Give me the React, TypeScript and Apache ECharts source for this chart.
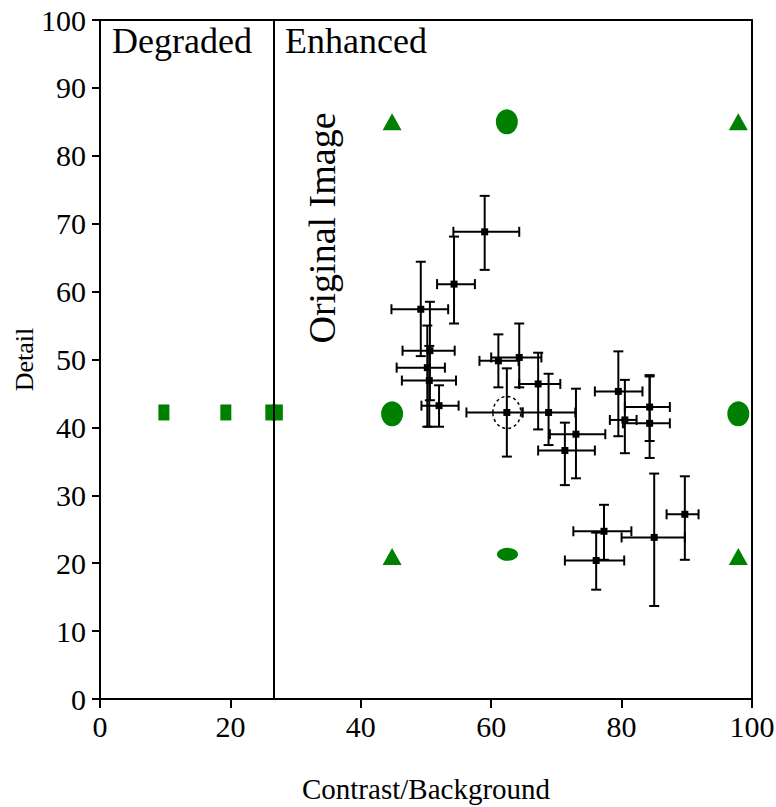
import React, { useEffect, useRef } from "react";
import * as echarts from "echarts";

// Green reference markers
const squareX = [9.8, 19.3, 26.2, 27.2];
const squareY = [42.2, 42.2, 42.2, 42.2];
const octagonX = [44.8, 62.4, 97.9];
const octagonY = [42.0, 85.0, 42.0];
const ellipseX = [62.5];
const ellipseY = [21.3];
const triangleX = [44.8, 97.9, 44.8, 97.9];
const triangleY = [85.0, 85.0, 21.0, 21.0];

// Black points with error bars
const pointX = [59.0, 54.3, 49.2, 50.6, 50.2, 50.5, 52.0, 61.1, 64.3, 62.4, 67.2, 68.8, 73.0, 71.3, 79.5, 80.5, 84.3, 84.3, 77.3, 76.1, 85.0, 89.7];
const pointY = [68.8, 61.1, 57.4, 51.3, 48.8, 46.9, 43.2, 49.8, 50.3, 42.2, 46.4, 42.2, 39.0, 36.6, 45.3, 41.1, 43.0, 40.6, 24.7, 20.4, 23.8, 27.2];
const xLow = [54.2, 51.7, 44.7, 46.4, 45.5, 46.3, 49.3, 58.2, 60.0, 56.2, 64.3, 64.8, 69.0, 67.2, 75.9, 78.2, 80.5, 80.2, 72.6, 71.3, 80.0, 86.9];
const xHigh = [64.3, 57.5, 53.4, 54.4, 52.9, 54.6, 55.0, 64.2, 67.7, 64.8, 70.6, 72.9, 77.5, 75.9, 83.2, 82.3, 87.4, 87.4, 81.5, 80.4, 89.7, 91.8];
const yLow = [63.2, 55.3, 50.5, 44.0, 40.1, 40.1, 40.1, 45.9, 45.9, 35.7, 39.7, 37.4, 32.5, 31.5, 38.7, 36.2, 38.0, 35.5, 20.5, 16.1, 13.7, 20.5];
const yHigh = [74.1, 68.1, 64.4, 58.5, 55.0, 52.0, 46.2, 53.7, 55.3, 48.7, 51.0, 47.9, 45.7, 40.7, 51.2, 47.0, 47.7, 47.5, 28.6, 24.5, 33.2, 32.8];
const originIndex = 9;

const boundaryX = 26.7;
const xTickValues = [0, 20, 40, 60, 80, 100];

const FONT = "'Liberation Serif', 'DejaVu Serif', serif";
const GREEN = "#008000";

const zip = (xs: number[], ys: number[]) => xs.map((x, i) => [x, ys[i]]);

export default function App() {
  const ref = useRef<HTMLDivElement>(null);
  useEffect(() => {
    if (!ref.current) return;
    const chart = echarts.init(ref.current, undefined, { renderer: "svg" });
    const errData = pointX.map((x, i) => [x, pointY[i], xLow[i], xHigh[i], yLow[i], yHigh[i], i]);
    const cap = 5;
    const greenStyle = { color: GREEN, opacity: 1 };
    const option: any = {
      animation: false,
      backgroundColor: "#fff",
      grid: {
        left: 100,
        right: 24,
        top: 20,
        bottom: 108,
        show: true,
        borderColor: "#000",
        borderWidth: 2,
        containLabel: false,
        outerBoundsMode: "none",
      },
      xAxis: {
        type: "value",
        min: 0,
        max: 100,
        interval: 20,
        name: "Contrast/Background",
        nameLocation: "middle",
        nameGap: 75,
        nameMoveOverlap: false,
        nameTextStyle: { fontFamily: FONT, fontSize: 29, color: "#000" },
        axisLine: { show: true, onZero: false, lineStyle: { color: "#000", width: 2 } },
        axisTick: { show: true, inside: false, length: 9, lineStyle: { color: "#000", width: 2 } },
        axisLabel: {
          margin: 12,
          fontFamily: FONT,
          fontSize: 30,
          color: "#000",
          customValues: xTickValues,
        },
        splitLine: { show: false },
      },
      yAxis: {
        type: "value",
        min: 0,
        max: 100,
        interval: 10,
        name: "Detail",
        nameLocation: "middle",
        nameGap: 63,
        nameRotate: 90,
        nameMoveOverlap: false,
        nameTextStyle: { fontFamily: FONT, fontSize: 26, color: "#000" },
        axisLine: { show: true, onZero: false, lineStyle: { color: "#000", width: 2 } },
        axisTick: { show: true, inside: false, length: 8, lineStyle: { color: "#000", width: 2 } },
        axisLabel: {
          margin: 14,
          fontFamily: FONT,
          fontSize: 30,
          color: "#000",
        },
        splitLine: { show: false },
      },
      graphic: [
        {
          type: "text",
          x: 112,
          y: 41,
          style: { text: "Degraded", font: `36px ${FONT}`, fill: "#000", textVerticalAlign: "middle" },
        },
        {
          type: "text",
          x: 285,
          y: 41,
          style: { text: "Enhanced", font: `36px ${FONT}`, fill: "#000", textVerticalAlign: "middle" },
        },
        {
          type: "text",
          x: 322,
          y: 228,
          rotation: Math.PI / 2,
          style: {
            text: "Original Image",
            font: `38px ${FONT}`,
            fill: "#000",
            textAlign: "center",
            textVerticalAlign: "middle",
          },
        },
      ],
      series: [
        {
          type: "scatter",
          name: "squares",
          data: zip(squareX, squareY),
          symbol: "rect",
          symbolSize: [11, 16],
          itemStyle: greenStyle,
          markLine: {
            silent: true,
            symbol: ["none", "none"],
            label: { show: false },
            lineStyle: { color: "#000", width: 2, type: "solid" },
            data: [{ xAxis: boundaryX }],
          },
        },
        {
          type: "scatter",
          name: "octagons",
          data: zip(octagonX, octagonY),
          symbol: "circle",
          symbolSize: [22, 25],
          itemStyle: greenStyle,
        },
        {
          type: "scatter",
          name: "ellipse",
          data: zip(ellipseX, ellipseY),
          symbol: "circle",
          symbolSize: [21, 13],
          itemStyle: greenStyle,
        },
        {
          type: "scatter",
          name: "triangles",
          data: zip(triangleX, triangleY),
          symbol: "triangle",
          symbolSize: [19, 17],
          itemStyle: greenStyle,
        },
        {
          type: "custom",
          name: "observers",
          data: errData,
          encode: { x: [0, 2, 3], y: [1, 4, 5] },
          z: 5,
          renderItem: (params: any, api: any) => {
            const x = api.value(0);
            const y = api.value(1);
            const p = api.coord([x, y]);
            const pxl = api.coord([api.value(2), y]);
            const pxh = api.coord([api.value(3), y]);
            const pyl = api.coord([x, api.value(4)]);
            const pyh = api.coord([x, api.value(5)]);
            const st = { stroke: "#000", lineWidth: 2 };
            const children: any[] = [
              { type: "line", shape: { x1: pxl[0], y1: p[1], x2: pxh[0], y2: p[1] }, style: st },
              { type: "line", shape: { x1: pxl[0], y1: p[1] - cap, x2: pxl[0], y2: p[1] + cap }, style: st },
              { type: "line", shape: { x1: pxh[0], y1: p[1] - cap, x2: pxh[0], y2: p[1] + cap }, style: st },
              { type: "line", shape: { x1: p[0], y1: pyl[1], x2: p[0], y2: pyh[1] }, style: st },
              { type: "line", shape: { x1: p[0] - cap, y1: pyl[1], x2: p[0] + cap, y2: pyl[1] }, style: st },
              { type: "line", shape: { x1: p[0] - cap, y1: pyh[1], x2: p[0] + cap, y2: pyh[1] }, style: st },
              { type: "rect", shape: { x: p[0] - 3.5, y: p[1] - 3.5, width: 7, height: 7 }, style: { fill: "#000" } },
            ];
            if (api.value(6) === originIndex) {
              children.push({
                type: "ellipse",
                shape: { cx: p[0], cy: p[1], rx: 14, ry: 16 },
                style: { fill: "none", stroke: "#000", lineWidth: 1.5, lineDash: [3, 3] },
              });
            }
            return { type: "group", children };
          },
        },
      ],
    };
    chart.setOption(option);
    return () => chart.dispose();
  }, []);
  return (
    <div
      ref={ref}
      style={{ position: "fixed", left: 0, top: 0, width: 776, height: 807, background: "#fff" }}
    />
  );
}
